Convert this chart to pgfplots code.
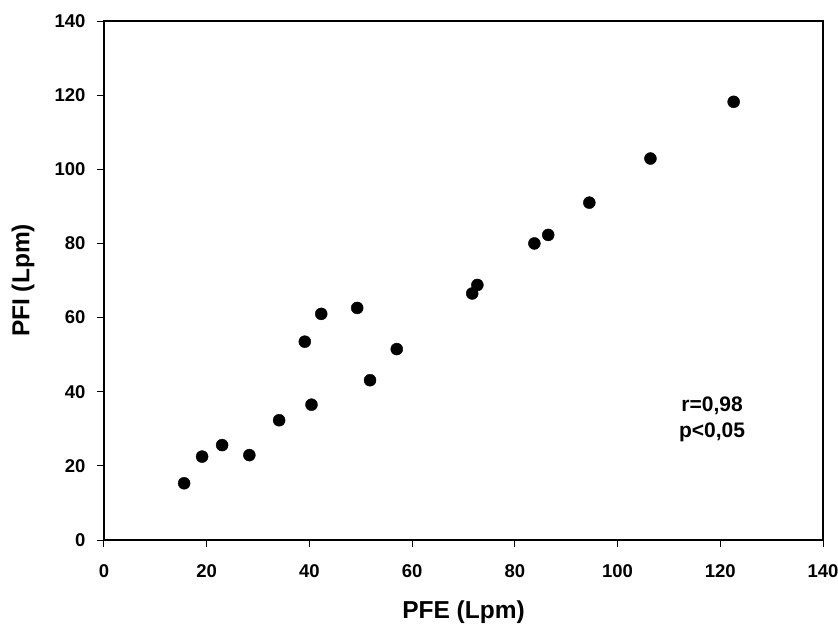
\documentclass[border=0pt]{standalone}
\usepackage{fontspec}
\setmainfont{Liberation Sans}
\usepackage{pgfplots}
\pgfplotsset{compat=1.18}
\begin{document}
\begin{tikzpicture}
\begin{axis}[
  scale only axis,
  width=719pt, height=519pt,
  xmin=0, xmax=140, ymin=0, ymax=140,
  xtick={0,20,...,140}, ytick={0,20,...,140},
  axis line style={line width=2pt},
  tick style={line width=1pt, black},
  tick align=outside,
  major tick length=7pt,
  xtick pos=bottom, ytick pos=left,
  /pgf/number format/assume math mode=true,
  ticklabel style={font=\fontsize{18.5}{20}\selectfont\bfseries},
  xticklabel style={yshift=-14pt},
  yticklabel style={xshift=-8pt},
  xlabel={PFE (Lpm)}, ylabel={PFI (Lpm)},
  label style={font=\fontsize{24.5}{28}\selectfont\bfseries},
  xlabel style={at={(axis description cs:0.5,-0.1387)}, anchor=center},
  ylabel style={at={(axis description cs:-0.1127,0.5)}, anchor=center},
  clip=false,
]
\addplot[only marks, mark=*, mark size=6pt, black] coordinates {
(15.6,15.3) (19.1,22.5) (23.0,25.6) (28.3,22.9) (34.1,32.3) (40.4,36.5)
(39.1,53.5) (42.3,61.0) (49.3,62.6) (51.8,43.1) (57.0,51.5) (71.7,66.5)
(72.7,68.8) (83.8,80.0) (86.5,82.3) (94.5,91.0) (106.4,102.9) (122.6,118.2)
};
\node[align=center, font=\fontsize{21}{26}\selectfont\bfseries] at (axis cs:118.4,32.5) {r=0,98\\p<0,05};
\end{axis}
\pgfresetboundingbox
\useasboundingbox (-104pt,-85pt) rectangle (734pt,540pt);
\end{tikzpicture}
\end{document}
